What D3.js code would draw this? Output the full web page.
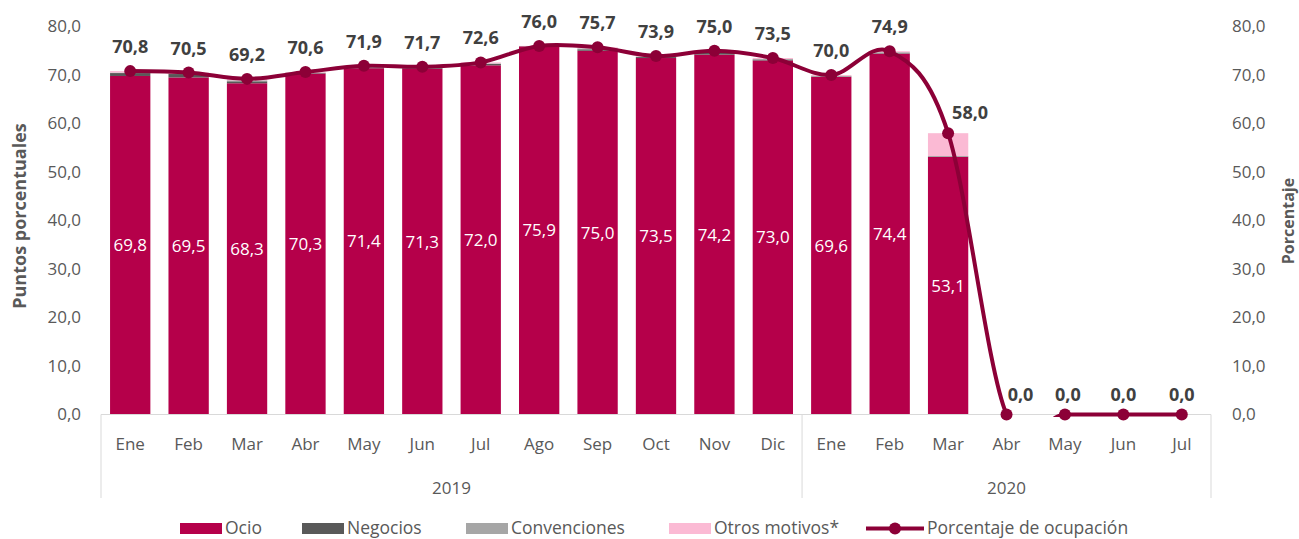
<!DOCTYPE html>
<html>
<head>
<meta charset="utf-8">
<script src="https://cdn.jsdelivr.net/npm/d3@7"></script>
<style>
  body { margin: 0; background: #fff; }
  svg text { font-family: "Open Sans", "Noto Sans", sans-serif; }
</style>
</head>
<body>
<svg id="chart" width="1299" height="539"></svg>
<script>
// months along the axis and the year each one belongs to
const months = ["Ene","Feb","Mar","Abr","May","Jun","Jul","Ago","Sep","Oct","Nov","Dic",
                "Ene","Feb","Mar","Abr","May","Jun","Jul"];
const years = ["2019","2020"];

// stacked components (puntos porcentuales)
const ocio = [69.8,69.5,68.3,70.3,71.4,71.3,72.0,75.9,75.0,73.5,74.2,73.0,69.6,74.4,53.1,0,0,0,0];
const negocios = [0.6,0.7,0.4,0.1,0.2,0.2,0.3,0.05,0.3,0.2,0.4,0.2,0.1,0.1,0.1,0,0,0,0];
const convenciones = [0.1,0.1,0.2,0.1,0.1,0.1,0.1,0.0,0.2,0.1,0.2,0.1,0.1,0.2,0.1,0,0,0,0];
const otros = [0.3,0.2,0.3,0.1,0.2,0.1,0.2,0.05,0.2,0.1,0.2,0.2,0.2,0.2,4.7,0,0,0,0];

// porcentaje de ocupación
const ocupacion = [70.8,70.5,69.2,70.6,71.9,71.7,72.6,76.0,75.7,73.9,75.0,73.5,70.0,74.9,58.0,0,0,0,0];

const yTicks = [0,10,20,30,40,50,60,70,80];

const seriesNames = ["Ocio","Negocios","Convenciones","Otros motivos*"];
const seriesColors = ["#b5004a","#595959","#a6a6a6","#fbbad4"];
const lineColor = "#8c0037";

const svg = d3.select("#chart");
const plot = {left: 101, right: 1211, top: 26.5, bottom: 414.5};

const x = d3.scaleBand()
    .domain(d3.range(months.length))
    .range([plot.left, plot.right])
    .paddingInner(0.31)
    .paddingOuter(0.155);
const y = d3.scaleLinear().domain([0, 80]).range([plot.bottom, plot.top]);
const fmt = v => d3.format(".1f")(v).replace(".", ",");

// stack the bar series
const rows = months.map((m, i) => ({i: i, s0: ocio[i], s1: negocios[i], s2: convenciones[i], s3: otros[i]}));
const stacked = d3.stack().keys(["s0","s1","s2","s3"])(rows);

svg.append("g").selectAll("g")
    .data(stacked)
    .join("g")
    .attr("fill", (d, k) => seriesColors[k])
    .selectAll("rect")
    .data(d => d)
    .join("rect")
    .attr("x", d => x(d.data.i))
    .attr("width", x.bandwidth())
    .attr("y", d => y(d[1]))
    .attr("height", d => Math.max(0, y(d[0]) - y(d[1])));

// labels inside the Ocio bars
svg.append("g").selectAll("text")
    .data(rows.filter(d => d.s0 > 0))
    .join("text")
    .attr("x", d => x(d.i) + x.bandwidth() / 2)
    .attr("y", d => (y(0) + y(d.s0)) / 2)
    .attr("dy", "0.35em")
    .attr("text-anchor", "middle")
    .attr("fill", "#fff")
    .style("font-size", "17px")
    .text(d => fmt(d.s0));

// left axis
const leftAxis = svg.append("g")
    .attr("transform", `translate(${plot.left},0)`)
    .call(d3.axisLeft(y).tickValues(yTicks).tickFormat(fmt).tickSize(0).tickPadding(20));
leftAxis.select(".domain").remove();

// right axis
const rightAxis = svg.append("g")
    .attr("transform", `translate(${plot.right},0)`)
    .call(d3.axisRight(y).tickValues(yTicks).tickFormat(fmt).tickSize(0).tickPadding(21));
rightAxis.select(".domain").remove();

svg.selectAll(".tick text")
    .attr("fill", "#595959")
    .style("font-size", "17px")
    .style("font-family", "'Open Sans', sans-serif");

// category axis with years underneath
const axisG = svg.append("g").attr("stroke", "#d9d9d9").attr("stroke-width", 1);
axisG.append("line")
    .attr("x1", plot.left).attr("x2", plot.right)
    .attr("y1", y(0)).attr("y2", y(0));
const edges = [plot.left, x(12) - x.step() * x.paddingInner() / 2, plot.right];
axisG.selectAll("line.sep")
    .data(edges)
    .join("line")
    .attr("class", "sep")
    .attr("x1", d => d).attr("x2", d => d)
    .attr("y1", y(0)).attr("y2", 498);

svg.append("g").selectAll("text")
    .data(months)
    .join("text")
    .attr("x", (d, i) => x(i) + x.bandwidth() / 2)
    .attr("y", 450)
    .attr("text-anchor", "middle")
    .attr("fill", "#595959")
    .style("font-size", "17px")
    .text(d => d);

svg.append("g").selectAll("text")
    .data(years)
    .join("text")
    .attr("x", (d, k) => (edges[k] + edges[k + 1]) / 2)
    .attr("y", 494)
    .attr("text-anchor", "middle")
    .attr("fill", "#595959")
    .style("font-size", "17px")
    .text(d => d);

// axis titles
svg.append("text")
    .attr("transform", "translate(26,216) rotate(-90)")
    .attr("text-anchor", "middle")
    .attr("fill", "#595959")
    .style("font-size", "18px")
    .style("font-weight", "bold")
    .text("Puntos porcentuales");
svg.append("text")
    .attr("transform", "translate(1294,221) rotate(-90)")
    .attr("text-anchor", "middle")
    .attr("fill", "#595959")
    .style("font-size", "16px")
    .style("font-weight", "bold")
    .text("Porcentaje");

// occupancy line (smoothed like the spreadsheet, clipped to the plot)
svg.append("clipPath").attr("id", "plotClip")
    .append("rect")
    .attr("x", plot.left).attr("y", 0)
    .attr("width", plot.right - plot.left).attr("height", plot.bottom + 2.5);

const cx = i => x(i) + x.bandwidth() / 2;
const line = d3.line()
    .x((d, i) => cx(i))
    .y(d => y(d))
    .curve(d3.curveCatmullRom.alpha(0));

svg.append("path")
    .datum(ocupacion)
    .attr("clip-path", "url(#plotClip)")
    .attr("fill", "none")
    .attr("stroke", lineColor)
    .attr("stroke-width", 4)
    .attr("d", line);

svg.append("g").selectAll("circle")
    .data(ocupacion)
    .join("circle")
    .attr("cx", (d, i) => cx(i))
    .attr("cy", d => y(d))
    .attr("r", 6)
    .attr("fill", lineColor);

// labels over the line points; a few are nudged the way the original is
const nudgeX = {14: 22, 15: 14, 16: 3};
svg.append("g").selectAll("text")
    .data(ocupacion)
    .join("text")
    .attr("x", (d, i) => cx(i) + (nudgeX[i] || 0))
    .attr("y", (d, i) => y(d) - (d === 0 ? 14 : (i === 14 ? 14 : 18)))
    .attr("text-anchor", "middle")
    .attr("fill", "#404040")
    .style("font-size", "18px")
    .style("font-weight", "bold")
    .text(d => fmt(d));

// legend
const legend = svg.append("g");
const legX = [180, 302, 466, 669];
seriesNames.forEach((name, k) => {
  legend.append("rect")
      .attr("x", legX[k]).attr("y", 523)
      .attr("width", 42).attr("height", 11)
      .attr("fill", seriesColors[k]);
  legend.append("text")
      .attr("x", legX[k] + 45).attr("y", 534)
      .attr("fill", "#595959")
      .style("font-size", "17.5px")
      .text(name);
});
legend.append("line")
    .attr("x1", 866).attr("x2", 924)
    .attr("y1", 528.5).attr("y2", 528.5)
    .attr("stroke", lineColor).attr("stroke-width", 4);
legend.append("circle")
    .attr("cx", 895).attr("cy", 528.5).attr("r", 6).attr("fill", lineColor);
legend.append("text")
    .attr("x", 927).attr("y", 534)
    .attr("fill", "#595959")
    .style("font-size", "17.5px")
    .text("Porcentaje de ocupación");
</script>
</body>
</html>
